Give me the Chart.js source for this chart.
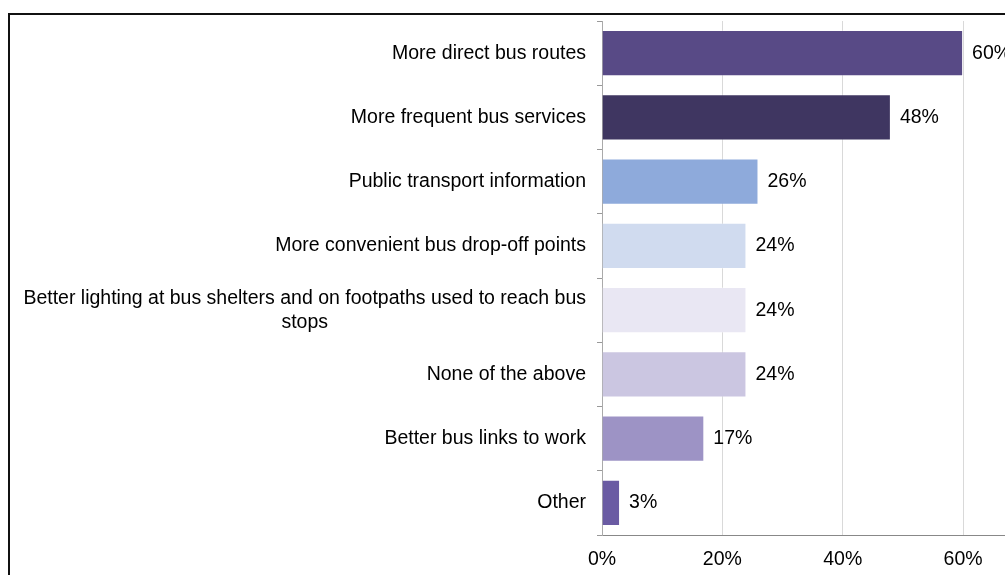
<!DOCTYPE html>
<html>
<head>
<meta charset="utf-8">
<script src="https://cdn.jsdelivr.net/npm/chart.js@4"></script>
<style>
  html, body { margin: 0; padding: 0; background: #fff; overflow: hidden; }
  #wrap { position: absolute; left: 0; top: 0; width: 1116px; height: 575px; }
  #frame { position: absolute; left: 8px; top: 13px; width: 2000px; height: 2000px;
           border: 2px solid #111; box-sizing: border-box; pointer-events: none; }
</style>
</head>
<body>
<div id="wrap"><canvas id="busChart"></canvas></div>
<div id="frame"></div>
<script>
var categories = [
  'More direct bus routes',
  'More frequent bus services',
  'Public transport information',
  'More convenient bus drop-off points',
  ['Better lighting at bus shelters and on footpaths used to reach bus', 'stops'],
  'None of the above',
  'Better bus links to work',
  'Other'
];
var shares = [60, 48, 26, 24, 24, 24, 17, 3];
var barColours = ['#584a86', '#3f3661', '#8eaadb', '#d0dbef', '#e9e7f3', '#cbc6e1', '#9d93c5', '#6a5ba3'];
var xTickValues = [0, 20, 40, 60, 80];

var fontFamily = '"Liberation Sans", Arial, sans-serif';
var labelFont = '19.5px ' + fontFamily;

// category names, right aligned block with lines centred on each other
var categoryLabels = {
  id: 'categoryLabels',
  afterDraw: function (chart) {
    var ctx = chart.ctx;
    var yScale = chart.scales.y;
    ctx.save();
    ctx.font = labelFont;
    ctx.fillStyle = '#000';
    ctx.textBaseline = 'middle';
    ctx.textAlign = 'center';
    chart.data.labels.forEach(function (lab, i) {
      var lines = Array.isArray(lab) ? lab : [lab];
      var maxW = Math.max.apply(null, lines.map(function (l) { return ctx.measureText(l).width; }));
      var cx = yScale.right - 16 - maxW / 2;
      var cy = yScale.getPixelForValue(i);
      lines.forEach(function (l, j) {
        ctx.fillText(l, cx, cy + (j - (lines.length - 1) / 2) * 24);
      });
    });
    ctx.restore();
  }
};

// value labels after the end of each bar
var valueLabels = {
  id: 'valueLabels',
  afterDatasetsDraw: function (chart) {
    var ctx = chart.ctx;
    var meta = chart.getDatasetMeta(0);
    ctx.save();
    ctx.font = labelFont;
    ctx.fillStyle = '#000';
    ctx.textBaseline = 'middle';
    ctx.textAlign = 'left';
    meta.data.forEach(function (bar, i) {
      ctx.fillText(shares[i] + '%', bar.x + 9, bar.y);
    });
    ctx.restore();
  }
};

var busChart = new Chart(document.getElementById('busChart'), {
  type: 'bar',
  data: {
    labels: categories,
    datasets: [{
      data: shares,
      backgroundColor: barColours,
      borderColor: 'rgba(255,255,255,0.3)',
      borderWidth: 1,
      barPercentage: 0.72,
      categoryPercentage: 1
    }]
  },
  options: {
    indexAxis: 'y',
    responsive: true,
    maintainAspectRatio: false,
    animation: false,
    layout: { padding: { top: 21, left: 0, right: 0, bottom: 0 } },
    plugins: {
      legend: { display: false },
      tooltip: { enabled: false }
    },
    scales: {
      x: {
        min: 0,
        max: 80,
        afterBuildTicks: function (scale) {
          scale.ticks = xTickValues.map(function (v) { return { value: v }; });
        },
        afterFit: function (scale) { scale.height = 40; },
        grid: { color: '#d9d9d9', drawTicks: false },
        border: { color: '#888', width: 1 },
        ticks: {
          padding: 13,
          color: '#000',
          font: { family: fontFamily, size: 19.5 },
          callback: function (v) { return v + '%'; }
        }
      },
      y: {
        afterFit: function (scale) { scale.width = 602; },
        grid: { drawOnChartArea: false, drawTicks: true, tickLength: 5, color: '#999', offset: true },
        border: { color: '#aaa', width: 1 },
        ticks: { display: false }
      }
    }
  },
  plugins: [categoryLabels, valueLabels]
});
</script>
</body>
</html>
